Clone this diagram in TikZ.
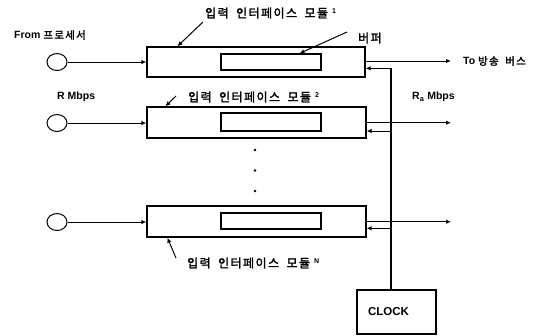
\documentclass[tikz,border=0pt]{standalone}
\usepackage{fontspec}
\setmainfont{Liberation Sans}
\newfontfamily\krfont{Noto Sans CJK KR}[LetterSpace=12, WordSpace=1.8, FakeBold=2]
\usetikzlibrary{arrows.meta,shapes.geometric,calc}
\newcommand\kor[1]{{\normalfont\krfont #1}}
\newcommand\numsup[1]{\hspace{4pt}\raisebox{4pt}{\normalfont\bfseries\fontsize{7}{8}\selectfont #1}}
\begin{document}
\begin{tikzpicture}[x=1pt,y=-1pt,
  modbox/.style={draw, line width=1.3pt, rectangle, inner sep=0pt},
  bufbox/.style={draw, line width=1.1pt, rectangle, inner sep=0pt, minimum width=100pt},
  port/.style={draw, line width=1pt, ellipse, inner sep=0pt, minimum width=20pt, minimum height=17pt},
  wire/.style={line width=1pt},
  arr/.style={wire, -{Latex[length=5pt,width=4.5pt]}},
  dotmark/.style={circle, fill, inner sep=0pt, minimum size=2.6pt},
  krlabel/.style={font=\krfont\fontsize{12}{14}\selectfont, inner sep=0pt, anchor=west},
  enlabel/.style={font=\bfseries\fontsize{10.5}{12}\selectfont, inner sep=0pt, anchor=west}
]
\useasboundingbox (0,0) rectangle (557,335);

% modules and buffers
\node[modbox, minimum width=218pt, minimum height=30pt] (m1) at (256,62) {};
\node[bufbox, minimum height=16pt] (b1) at (271,62) {};
\node[modbox, minimum width=219pt, minimum height=31pt] (m2) at (256.5,122.5) {};
\node[bufbox, minimum height=18pt] (b2) at (271,122) {};
\node[modbox, minimum width=219pt, minimum height=31pt] (mN) at (256.5,221.5) {};
\node[bufbox, minimum height=16pt] (bN) at (271,221) {};

% input ports
\node[port] (c1) at (57,62) {};
\node[port] (c2) at (57,123) {};
\node[port] (cN) at (57,222) {};

\draw[arr] (c1.east) -- (c1.east -| m1.west);
\draw[arr] (c2.east) -- (c2.east -| m2.west);
\draw[arr] (cN.east) -- (cN.east -| mN.west);

% dots
\node[dotmark] (d1) at (255,150) {};
\node[dotmark] (d2) at (255,170.5) {};
\node[dotmark] (d3) at (255,191) {};

% outputs
\coordinate (o1) at (451,61);
\coordinate (o2) at (451,122.7);
\coordinate (oN) at (451,221.7);
\draw[arr] (o1 -| m1.east) -- (o1);
\draw[arr] (o2 -| m2.east) -- (o2);
\draw[arr] (oN -| mN.east) -- (oN);

% clock and return lines
\node[modbox, minimum width=79pt, minimum height=44pt, font=\bfseries\fontsize{11.5}{13}\selectfont,
      text width=57pt, inner xsep=11pt, align=left] (clk) at (396.5,312) {\raisebox{-4pt}{CLOCK}};
\coordinate (r1) at (391,68.3);
\coordinate (r2) at (391,131);
\coordinate (rN) at (391,228.3);
\draw[line width=1.3pt] (r1) -- (r1 |- clk.north);
\draw[arr] (r1) -- (r1 -| m1.east);
\draw[arr] (r2) -- (r2 -| m2.east);
\draw[arr] (rN) -- (rN -| mN.east);

% labels
\node[krlabel] (l1) at (205,13) {입력 인터페이스 모듈\numsup{1}};
\node[krlabel] (l2) at (188,97) {입력 인터페이스 모듈\numsup{2}};
\node[krlabel] (lN) at (187,263) {입력 인터페이스 모듈\numsup{N}};
\node[krlabel] (lbuf) at (358,38) {버퍼};
\node[enlabel] (lfrom) at (14,35) {From \kor{프로세서}};
\node[enlabel] (lR) at (57,97) {R Mbps};
\node[enlabel] (lRa) at (412,97) {R\textsubscript{a} Mbps};
\node[enlabel] (lto) at (463,61) {To \kor{방송 버스}};

% leader lines
\draw[arr] ($(l1.west)+(-2,9)$) -- ($(m1.north west)+(31,0)$);
\draw[arr] ($(l2.west)+(-12,-1)$) -- ($(m2.north west)+(19,0)$);
\draw[arr] ($(lN.west)+(-11,-5)$) -- ($(mN.south west)+(21,0)$);
\draw[arr] ($(lbuf.west)+(-11,-6)$) -- ($(b1.north west)+(79,0)$);
\end{tikzpicture}
\end{document}
